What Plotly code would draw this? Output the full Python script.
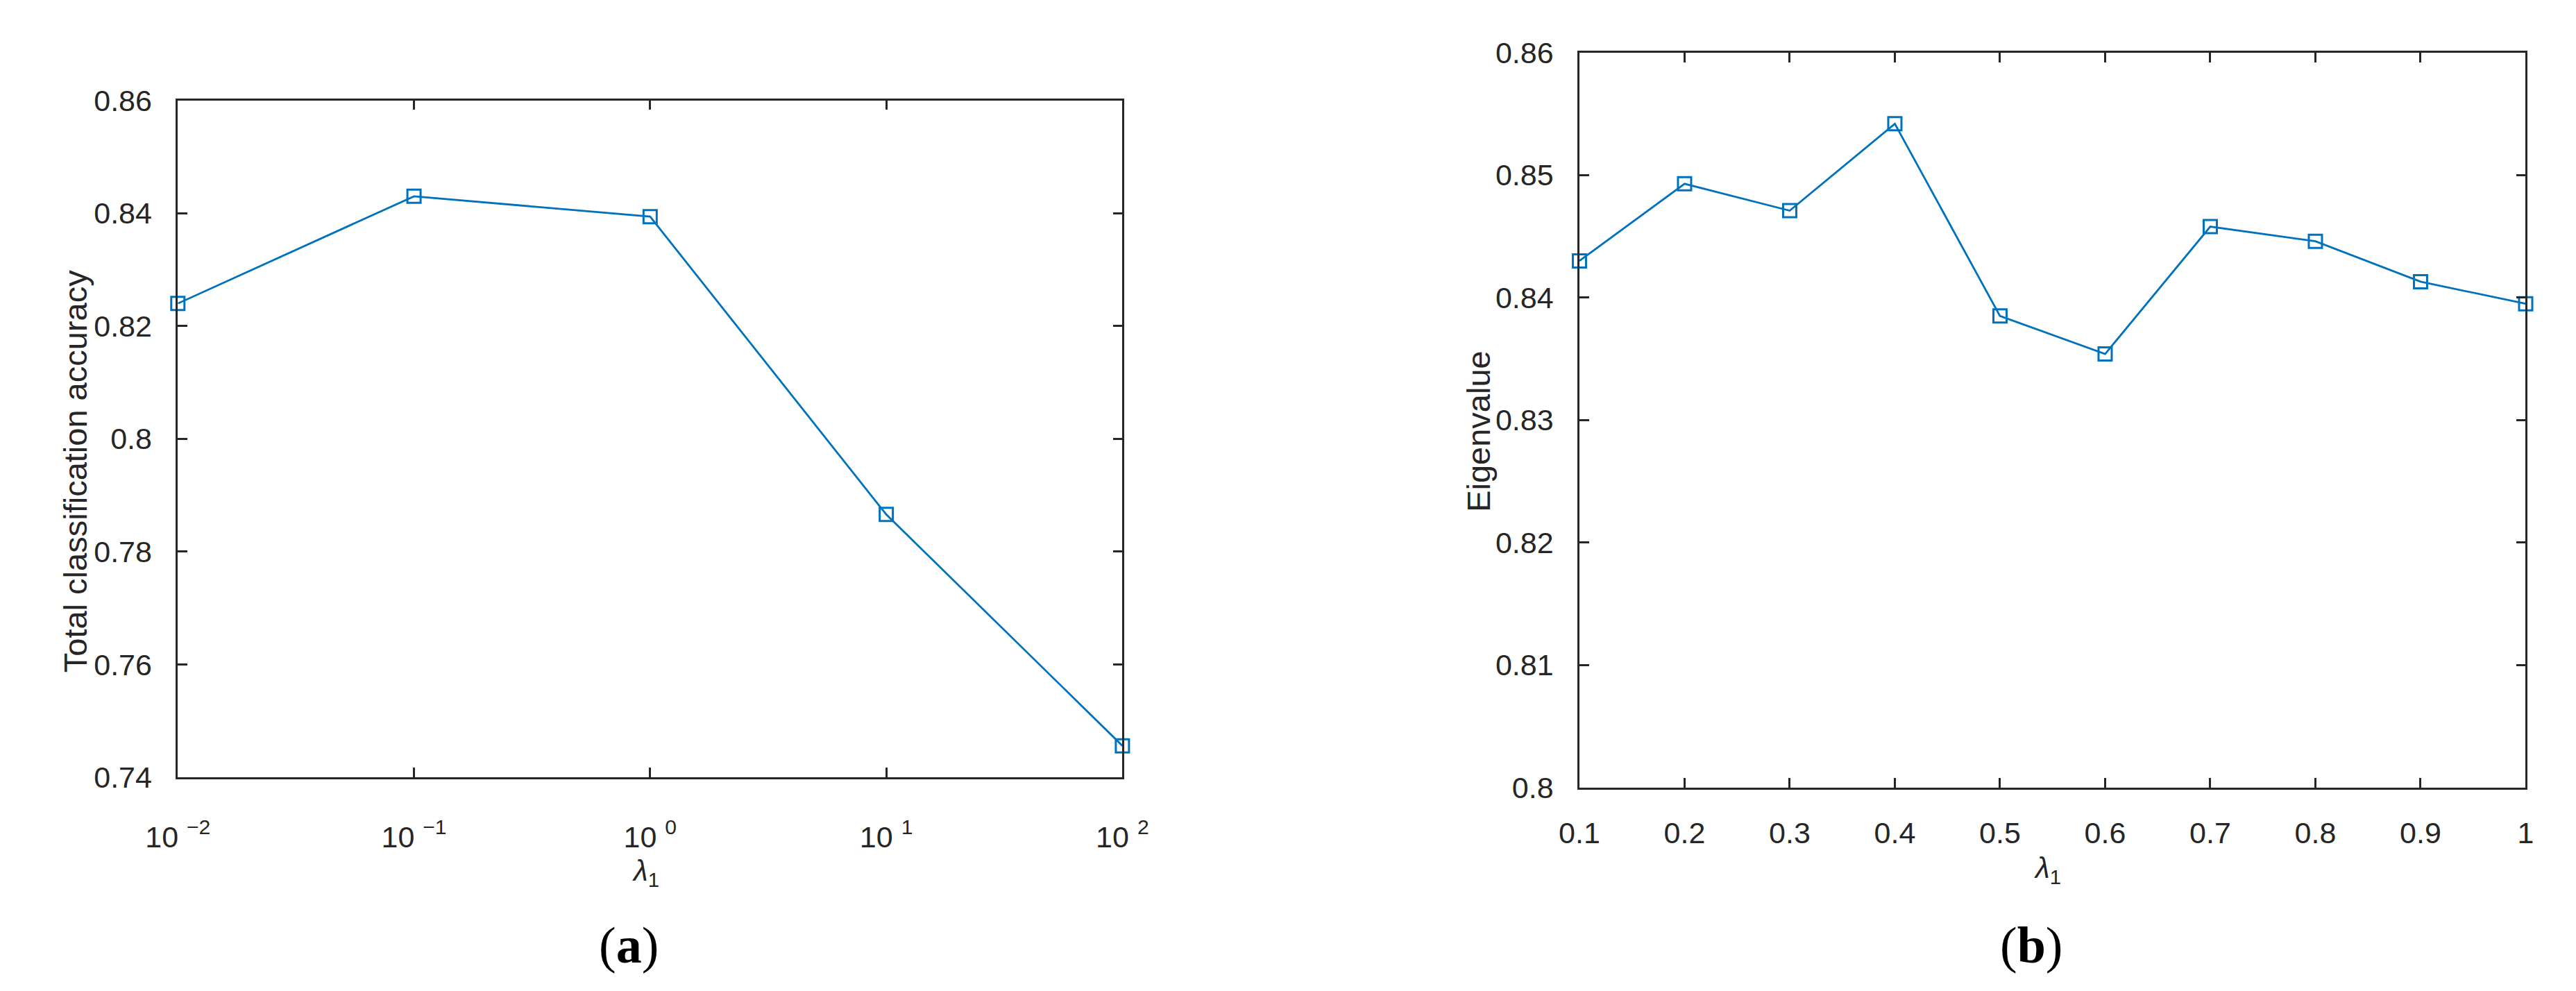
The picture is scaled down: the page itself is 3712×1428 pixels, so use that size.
import plotly.graph_objects as go

# ---- data ----
lam_a = [0.01, 0.1, 1, 10, 100]
acc_a = [0.8240, 0.8430, 0.8394, 0.7866, 0.7456]
xtick_a_vals = [0.01, 0.1, 1, 10, 100]
xtick_a_text = ["10 <sup>−2</sup>", "10 <sup>−1</sup>", "10 <sup>0</sup>", "10 <sup>1</sup>", "10 <sup>2</sup>"]
ytick_a_vals = [0.74, 0.76, 0.78, 0.80, 0.82, 0.84, 0.86]
ytick_a_text = ["0.74", "0.76", "0.78", "0.8", "0.82", "0.84", "0.86"]

lam_b = [0.1, 0.2, 0.3, 0.4, 0.5, 0.6, 0.7, 0.8, 0.9, 1.0]
eig_b = [0.8430, 0.8493, 0.8471, 0.8542, 0.8385, 0.8354, 0.8458, 0.8446, 0.8413, 0.8395]
xtick_b_vals = [0.1, 0.2, 0.3, 0.4, 0.5, 0.6, 0.7, 0.8, 0.9, 1.0]
xtick_b_text = ["0.1", "0.2", "0.3", "0.4", "0.5", "0.6", "0.7", "0.8", "0.9", "1"]
ytick_b_vals = [0.80, 0.81, 0.82, 0.83, 0.84, 0.85, 0.86]
ytick_b_text = ["0.8", "0.81", "0.82", "0.83", "0.84", "0.85", "0.86"]

W, H = 3712, 1428
BLUE = "#0072BD"
AX = "#262626"
FONT = "Liberation Sans, Arial, sans-serif"

fig = go.Figure()
marker = dict(symbol="square-open", size=19, color=BLUE, line=dict(width=3, color=BLUE))
fig.add_trace(go.Scatter(x=lam_a, y=acc_a, mode="lines+markers", line=dict(color=BLUE, width=2.8),
                         marker=marker, xaxis="x", yaxis="y", showlegend=False, cliponaxis=False))
fig.add_trace(go.Scatter(x=lam_b, y=eig_b, mode="lines+markers", line=dict(color=BLUE, width=2.8),
                         marker=marker, xaxis="x2", yaxis="y2", showlegend=False, cliponaxis=False))

common = dict(showline=True, linecolor=AX, linewidth=2.5, mirror="ticks", ticks="inside",
              ticklen=14, tickwidth=2.5, tickcolor=AX, showgrid=False, zeroline=False,
              tickfont=dict(family=FONT, size=43, color=AX))

fig.update_layout(
    width=W, height=H,
    margin=dict(l=0, r=0, t=0, b=0),
    paper_bgcolor="white", plot_bgcolor="white",
    xaxis=dict(domain=[206 / W, 1599 / W], anchor="y", type="log", range=[-2, 2],
               tickmode="array", tickvals=xtick_a_vals, ticktext=xtick_a_text,
               ticklabelstandoff=46, **common),
    yaxis=dict(domain=[1 - 1126 / H, 1 - 116.6 / H], anchor="x", range=[0.74, 0.86],
               tickmode="array", tickvals=ytick_a_vals, ticktext=ytick_a_text,
               ticklabelstandoff=26, **common),
    xaxis2=dict(domain=[2273 / W, 3668.5 / W], anchor="y2", range=[0.1, 1.0],
                tickmode="array", tickvals=xtick_b_vals, ticktext=xtick_b_text,
                ticklabelstandoff=26, **common),
    yaxis2=dict(domain=[1 - 1141 / H, 1 - 45.5 / H], anchor="x2", range=[0.80, 0.86],
                tickmode="array", tickvals=ytick_b_vals, ticktext=ytick_b_text,
                ticklabelstandoff=26, **common),
)

ann_font = dict(family=FONT, size=47, color=AX)
lam_font = dict(family=FONT, size=42, color=AX)
lab_font = dict(family="Liberation Serif, Times New Roman, serif", size=74, color="black")
annotations = [
    dict(text="Total classification accuracy", x=55 / W, y=1 - 670 / H, textangle=-90, font=ann_font),
    dict(text="Eigenvalue", x=2124 / W, y=1 - 610 / H, textangle=-90, font=ann_font),
    dict(text="<i>λ</i><sub>1</sub>", x=896 / W, y=1 - 1268 / H, font=lam_font),
    dict(text="<i>λ</i><sub>1</sub>", x=2963 / W, y=1 - 1264 / H, font=lam_font),
    dict(text="(<b>a</b>)", x=871 / W, y=1 - 1376 / H, font=lab_font),
    dict(text="(<b>b</b>)", x=2939 / W, y=1 - 1376 / H, font=lab_font),
]
for a in annotations:
    fig.add_annotation(xref="paper", yref="paper", xanchor="center", yanchor="middle",
                       showarrow=False, **a)

fig.write_html("out.html")
